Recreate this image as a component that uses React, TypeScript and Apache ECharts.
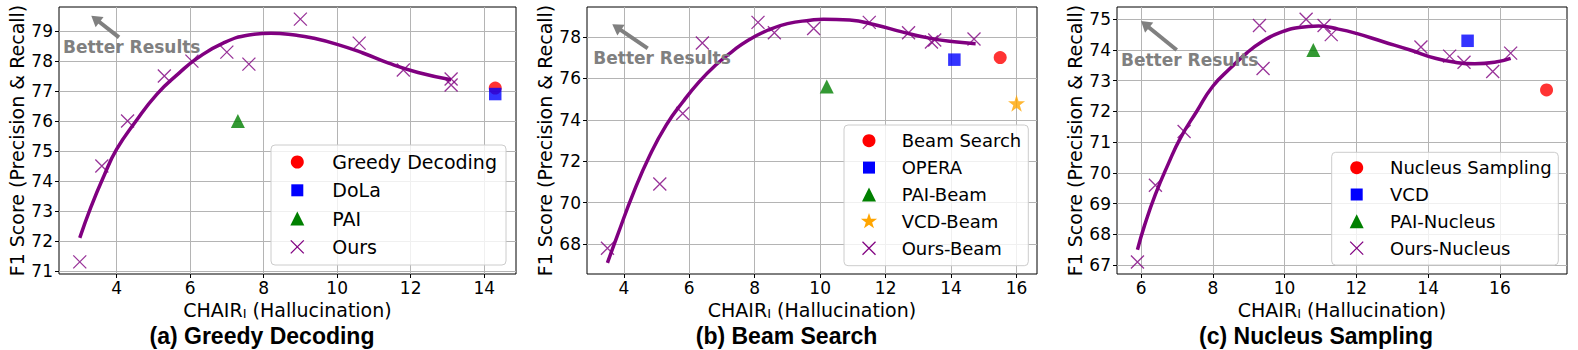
import React, { useEffect, useRef } from 'react';
import * as echarts from 'echarts';

const FONT = 'DejaVu Sans';
const PURPLE = '#800080';
const GRAY = '#808080';

// ---------- Panel (a) Greedy Decoding ----------
const xTicksA = [4, 6, 8, 10, 12, 14];
const yTicksA = [71, 72, 73, 74, 75, 76, 77, 78, 79];
const curveA = [[3.0, 72.1], [3.3, 73.12], [3.65, 74.15], [4.0, 75.05], [4.5, 75.95], [5.1, 76.9], [5.7, 77.6], [6.2, 78.1], [6.9, 78.6], [7.6, 78.87], [8.2, 78.93], [8.9, 78.86], [9.3, 78.78], [10.0, 78.56], [10.7, 78.27], [11.4, 77.93], [12.2, 77.62], [13.1, 77.38]];
const oursA = [[3.0, 71.3], [3.6, 74.5], [4.3, 76.0], [5.3, 77.5], [6.05, 78.0], [7.0, 78.3], [7.6, 77.9], [9.0, 79.4], [10.6, 78.6], [11.8, 77.7], [13.1, 77.4], [13.1, 77.2]];
const greedyA = [[14.3, 77.1]];
const dolaA = [[14.3, 76.9]];
const paiA = [[7.3, 76.0]];
const namesA = ['Greedy Decoding', 'DoLa', 'PAI', 'Ours'];

// ---------- Panel (b) Beam Search ----------
const xTicksB = [4, 6, 8, 10, 12, 14, 16];
const yTicksB = [68, 70, 72, 74, 76, 78];
const curveB = [[3.5, 67.1], [3.8, 68.4], [4.3, 70.5], [4.8, 72.3], [5.3, 73.75], [5.8, 74.86], [6.3, 75.83], [6.8, 76.63], [7.3, 77.28], [7.8, 77.84], [8.4, 78.32], [9.0, 78.64], [9.7, 78.8], [10.1, 78.85], [10.9, 78.81], [11.7, 78.57], [12.5, 78.24], [13.3, 77.95], [14.1, 77.76], [14.75, 77.67]];
const oursB = [[3.5, 67.8], [5.1, 70.9], [5.8, 74.3], [6.4, 77.7], [8.1, 78.7], [8.6, 78.2], [9.8, 78.4], [11.5, 78.7], [12.7, 78.2], [13.4, 77.75], [13.5, 77.85], [14.7, 77.9]];
const beamB = [[15.5, 77.0]];
const operaB = [[14.1, 76.9]];
const paiB = [[10.2, 75.6]];
const vcdB = [[16.0, 74.8]];
const namesB = ['Beam Search', 'OPERA', 'PAI-Beam', 'VCD-Beam', 'Ours-Beam'];

// ---------- Panel (c) Nucleus Sampling ----------
const xTicksC = [6, 8, 10, 12, 14, 16];
const yTicksC = [67, 68, 69, 70, 71, 72, 73, 74, 75];
const curveC = [[5.9, 67.5], [6.1, 68.3], [6.4, 69.3], [6.75, 70.27], [7.1, 71.14], [7.55, 72.0], [8.0, 72.82], [8.5, 73.42], [8.95, 73.91], [9.4, 74.29], [9.85, 74.56], [10.4, 74.73], [10.95, 74.78], [11.5, 74.68], [12.0, 74.54], [12.75, 74.27], [13.5, 74.0], [14.2, 73.73], [14.75, 73.6], [15.3, 73.55], [15.85, 73.6], [16.3, 73.73]];
const oursC = [[5.9, 67.1], [6.4, 69.6], [7.2, 71.35], [9.3, 74.8], [9.4, 73.4], [10.6, 75.0], [11.1, 74.8], [11.3, 74.5], [13.8, 74.1], [14.6, 73.8], [15.0, 73.6], [15.8, 73.3], [16.3, 73.9]];
const nucleusC = [[17.3, 72.7]];
const vcdC = [[15.1, 74.3]];
const paiC = [[10.8, 74.0]];
const namesC = ['Nucleus Sampling', 'VCD', 'PAI-Nucleus', 'Ours-Nucleus'];

const subtitles = ['(a) Greedy Decoding', '(b) Beam Search', '(c) Nucleus Sampling'];
const xName = '{m|CHAIR}{s|I}{m| (Hallucination)}';
const yName = 'F1 Score (Precision & Recall)';
const betterText = 'Better Results';

const CROSS = 'path://M0,0L1,1M1,0L0,1';
const STAR = 'path://M50,0L61.2,34.5L97.6,34.5L68.2,55.9L79.4,90.5L50,69.1L20.6,90.5L31.8,55.9L2.4,34.5L38.8,34.5Z';

type Kind = 'circle' | 'square' | 'triangle' | 'star' | 'cross';
const COLORS: Record<string, string> = { red: '#ff0000', blue: '#0000ff', green: '#008000', orange: '#ffa500', purple: PURPLE };

function scatter(name: string, data: number[][], idx: number, kind: Kind, color: string, z: number) {
  const base: any = { name, type: 'scatter', xAxisIndex: idx, yAxisIndex: idx, data, z };
  if (kind === 'cross') {
    return { ...base, symbol: CROSS, symbolSize: 13, itemStyle: { color: 'transparent', borderColor: color, borderWidth: 1.3 } };
  }
  const sym = kind === 'circle' ? 'circle' : kind === 'square' ? 'rect' : kind === 'triangle' ? 'triangle' : STAR;
  const size = kind === 'circle' ? 13 : kind === 'square' ? 12.5 : kind === 'triangle' ? 14 : 17;
  return { ...base, symbol: sym, symbolSize: size, itemStyle: { color } };
}

function markerG(kind: Kind, cx: number, cy: number, color: string): any[] {
  if (kind === 'circle') return [{ type: 'circle', shape: { cx, cy, r: 6.5 }, style: { fill: color } }];
  if (kind === 'square') return [{ type: 'rect', shape: { x: cx - 6, y: cy - 6, width: 12, height: 12 }, style: { fill: color } }];
  if (kind === 'triangle') return [{ type: 'polygon', shape: { points: [[cx, cy - 7], [cx - 7, cy + 7], [cx + 7, cy + 7]] }, style: { fill: color } }];
  if (kind === 'star') {
    const pts: number[][] = [];
    for (let i = 0; i < 10; i++) {
      const r = i % 2 === 0 ? 8.5 : 3.3;
      const a = -Math.PI / 2 + (i * Math.PI) / 5;
      pts.push([cx + r * Math.cos(a), cy + r * Math.sin(a)]);
    }
    return [{ type: 'polygon', shape: { points: pts }, style: { fill: color } }];
  }
  const h = 6.5;
  return [
    { type: 'line', shape: { x1: cx - h, y1: cy - h, x2: cx + h, y2: cy + h }, style: { stroke: color, lineWidth: 1.3 } },
    { type: 'line', shape: { x1: cx - h, y1: cy + h, x2: cx + h, y2: cy - h }, style: { stroke: color, lineWidth: 1.3 } },
  ];
}

function legendG(box: { x: number; y: number; w: number; h: number; mx: number; tx: number; y0: number; dy: number; fs: number }, names: string[], kinds: Kind[], colors: string[]): any[] {
  const els: any[] = [
    { type: 'rect', shape: { x: box.x, y: box.y, width: box.w, height: box.h, r: 4 }, style: { fill: 'rgba(255,255,255,0.8)', stroke: '#cccccc', lineWidth: 1 } },
  ];
  names.forEach((n, i) => {
    const cy = box.y0 + i * box.dy;
    els.push(...markerG(kinds[i], box.mx, cy, colors[i]));
    els.push({ type: 'text', style: { text: n, x: box.tx, y: cy, fontSize: box.fs, fontFamily: FONT, fill: '#000', align: 'left', verticalAlign: 'middle' } });
  });
  return els.map((e) => ({ ...e, z: 100 }));
}

function arrowG(x1: number, y1: number, x2: number, y2: number): any[] {
  const dx = x2 - x1, dy = y2 - y1;
  const L = Math.hypot(dx, dy);
  const ux = dx / L, uy = dy / L;
  const hl = 10.5, hw = 6.5;
  const bx = x2 - ux * hl, by = y2 - uy * hl;
  const px = -uy, py = ux;
  return [
    { type: 'line', z: 100, shape: { x1, y1, x2: bx + ux, y2: by + uy }, style: { stroke: GRAY, lineWidth: 4 } },
    { type: 'polygon', z: 100, shape: { points: [[x2, y2], [bx + px * hw, by + py * hw], [bx - px * hw, by - py * hw]] }, style: { fill: GRAY } },
  ];
}

function textG(text: string, x: number, y: number, fs: number, color: string, family: string, align: string, bold: boolean) {
  return { type: 'text', z: 100, style: { text, x, y, fontSize: fs, fontFamily: family, fontWeight: bold ? 'bold' : 'normal', fill: color, align, verticalAlign: 'middle' } };
}

function xAxisCfg(idx: number, min: number, max: number, ticks: number[]) {
  return {
    type: 'value', gridIndex: idx, min, max,
    axisLine: { show: false },
    axisTick: { show: true, inside: false, length: 4, lineStyle: { color: '#000', width: 1 }, customValues: ticks },
    axisLabel: { customValues: ticks, fontSize: 17, color: '#000', fontFamily: FONT, margin: 5 },
    splitLine: { show: true, lineStyle: { color: '#b4b4b4', width: 1 } },
    name: xName, nameLocation: 'middle', nameGap: 20,
    nameTextStyle: {
      color: '#000', fontFamily: FONT, fontSize: 19,
      rich: {
        m: { fontSize: 19, fontFamily: FONT, color: '#000' },
        s: { fontSize: 13, fontFamily: FONT, color: '#000', verticalAlign: 'bottom' },
      },
    },
  };
}

function yAxisCfg(idx: number, min: number, max: number, ticks: number[]) {
  return {
    type: 'value', gridIndex: idx, min, max,
    axisLine: { show: false },
    axisTick: { show: true, inside: false, length: 4, lineStyle: { color: '#000', width: 1 }, customValues: ticks },
    axisLabel: { customValues: ticks, fontSize: 17, color: '#000', fontFamily: FONT, margin: 6 },
    splitLine: { show: true, lineStyle: { color: '#b4b4b4', width: 1 } },
    name: yName, nameLocation: 'middle', nameGap: 33, nameRotate: 90,
    nameTextStyle: { color: '#000', fontFamily: FONT, fontSize: 19 },
  };
}

function curve(data: number[][], idx: number) {
  return { type: 'line', xAxisIndex: idx, yAxisIndex: idx, data, smooth: 0.5, symbol: 'none', lineStyle: { color: PURPLE, width: 3.5 }, z: 2 };
}

export default function App() {
  const ref = useRef<HTMLDivElement>(null);
  useEffect(() => {
    if (!ref.current) return;
    const chart = echarts.init(ref.current, undefined, { renderer: 'svg' });
    const grid = (left: number, width: number) => ({ left, top: 7, width, height: 267, show: true, borderColor: '#000', borderWidth: 1, backgroundColor: 'transparent' });
    const kindsA: Kind[] = ['circle', 'square', 'triangle', 'cross'];
    const kindsB: Kind[] = ['circle', 'square', 'triangle', 'star', 'cross'];
    const colsA = [COLORS.red, COLORS.blue, COLORS.green, COLORS.purple];
    const colsB = [COLORS.red, COLORS.blue, COLORS.green, COLORS.orange, COLORS.purple];
    const option: any = {
      animation: false,
      backgroundColor: '#fff',
      grid: [grid(59, 457), grid(587, 450), grid(1117, 450)],
      xAxis: [xAxisCfg(0, 2.435, 14.865, xTicksA), xAxisCfg(1, 2.875, 16.625, xTicksB), xAxisCfg(2, 5.33, 17.87, xTicksC)],
      yAxis: [yAxisCfg(0, 70.895, 79.805, yTicksA), yAxisCfg(1, 66.56, 79.44, yTicksB), yAxisCfg(2, 66.71, 75.4, yTicksC)],
      series: [
        curve(curveA, 0),
        scatter(namesA[0], greedyA, 0, 'circle', COLORS.red, 3),
        scatter(namesA[1], dolaA, 0, 'square', COLORS.blue, 4),
        scatter(namesA[2], paiA, 0, 'triangle', COLORS.green, 5),
        scatter(namesA[3], oursA, 0, 'cross', COLORS.purple, 6),
        curve(curveB, 1),
        scatter(namesB[0], beamB, 1, 'circle', COLORS.red, 3),
        scatter(namesB[1], operaB, 1, 'square', COLORS.blue, 4),
        scatter(namesB[2], paiB, 1, 'triangle', COLORS.green, 5),
        scatter(namesB[3], vcdB, 1, 'star', COLORS.orange, 5),
        scatter(namesB[4], oursB, 1, 'cross', COLORS.purple, 6),
        curve(curveC, 2),
        scatter(namesC[0], nucleusC, 2, 'circle', COLORS.red, 3),
        scatter(namesC[1], vcdC, 2, 'square', COLORS.blue, 4),
        scatter(namesC[2], paiC, 2, 'triangle', COLORS.green, 5),
        scatter(namesC[3], oursC, 2, 'cross', COLORS.purple, 6),
      ],
      graphic: {
        elements: [
          ...arrowG(119, 37.3, 91.3, 15.7),
          textG(betterText, 63, 46.7, 17, GRAY, FONT, 'left', true),
          ...arrowG(647.7, 48.3, 612.3, 24.3),
          textG(betterText, 593.3, 58, 17, GRAY, FONT, 'left', true),
          ...arrowG(1176.7, 50, 1141, 21),
          textG(betterText, 1121, 60, 17, GRAY, FONT, 'left', true),
          ...legendG({ x: 271, y: 145, w: 235, h: 120, mx: 297.3, tx: 332.3, y0: 162, dy: 28.3, fs: 19 }, namesA, kindsA, colsA),
          ...legendG({ x: 844, y: 125, w: 184.3, h: 140.7, mx: 869, tx: 901.7, y0: 140.7, dy: 26.9, fs: 18 }, namesB, kindsB, colsB),
          ...legendG({ x: 1331.7, y: 152.3, w: 226.6, h: 112.7, mx: 1356.7, tx: 1390, y0: 167.7, dy: 26.8, fs: 18 }, namesC, kindsA, colsA),
          textG(subtitles[0], 262, 335.5, 23, '#000', 'Liberation Sans', 'center', true),
          textG(subtitles[1], 786.5, 335.5, 23, '#000', 'Liberation Sans', 'center', true),
          textG(subtitles[2], 1316, 335.5, 23, '#000', 'Liberation Sans', 'center', true),
        ],
      },
    };
    chart.setOption(option);
    return () => chart.dispose();
  }, []);
  return <div ref={ref} style={{ position: 'absolute', left: 0, top: 0, width: 1578, height: 350 }} />;
}
